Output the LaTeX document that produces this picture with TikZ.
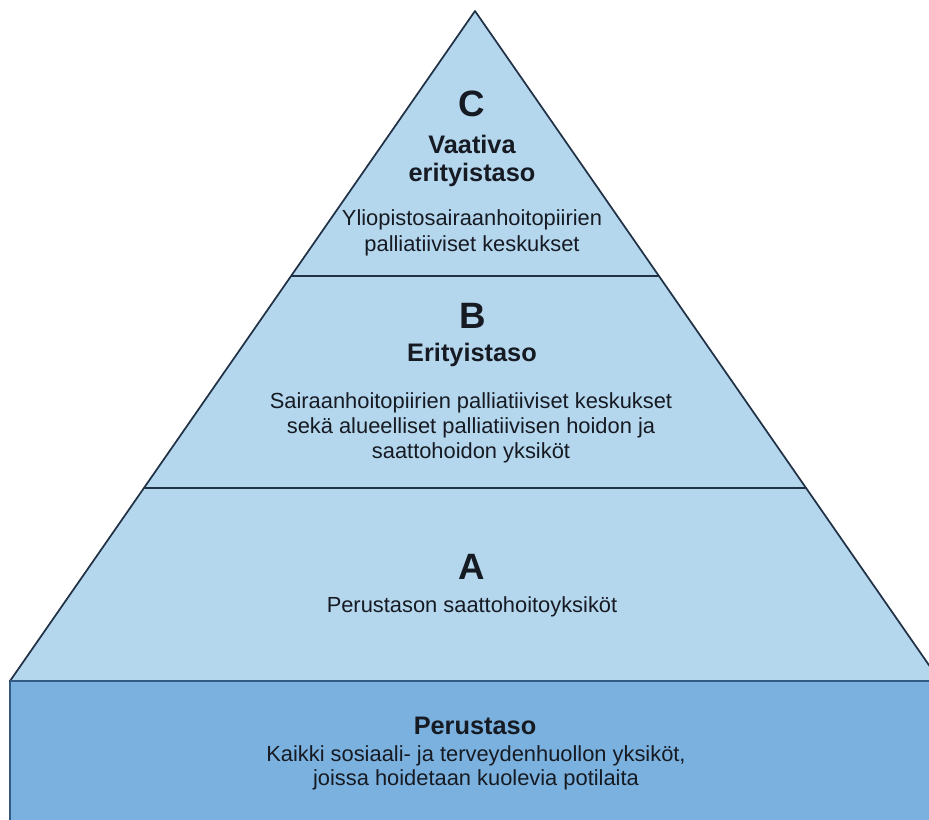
\documentclass[tikz,border=0pt]{standalone}
\usepackage{fontspec}
\setmainfont{Liberation Sans}
\definecolor{levelblue}{RGB}{181,215,238}
\definecolor{baseblue}{RGB}{123,177,223}
\definecolor{edgeline}{RGB}{33,50,70}
\definecolor{baseedge}{RGB}{50,90,130}
\definecolor{textdark}{RGB}{22,26,34}
\tikzset{
	letter/.style={text=textdark, font=\bfseries\fontsize{27.5}{28}\selectfont},
	title/.style={text=textdark, align=center, font=\bfseries\fontsize{19}{20.5}\selectfont},
	desc/.style={text=textdark, align=center, font=\fontsize{16.4}{19}\selectfont}
}
\begin{document}
\begin{tikzpicture}[x=0.75pt, y=-0.75pt]
	\useasboundingbox (0, 0) rectangle (929, 820);
	\clip (0, 0) rectangle (929, 820);
	\coordinate (apex) at (475, 11);
	\coordinate (left) at (10, 681);
	\coordinate (right) at (940, 681);
	
	\fill [white] (0, 0) rectangle (929, 820);
	\draw [fill=baseblue, draw=baseedge, line width=1.6pt] (left) rectangle (950, 840);
	\draw [fill=levelblue, draw=edgeline, line width=1.3pt, line join=round] (apex) -- (left) -- (right) -- cycle;
	\draw [edgeline, line width=1.3pt] (291, 276) -- (659, 276);
	\draw [edgeline, line width=1.3pt] (144, 488) -- (806, 488);
	\draw [baseedge, line width=1.6pt] (left) -- (right);
	
	\draw node[letter] at (472, 104) (c) {C};
	\draw node[title] at (472, 161) (vaativa) {Vaativa\\erityistaso};
	\draw node[desc] at (472, 233) (yliopisto) {Yliopistosairaanhoitopiirien\\palliatiiviset keskukset};
	
	\draw node[letter] at (473, 316) (b) {B};
	\draw node[title] at (472, 355) (erityistaso) {Erityistaso};
	\draw node[desc] at (471, 428) (sairaan) {Sairaanhoitopiirien palliatiiviset keskukset\\sekä alueelliset palliatiivisen hoidon ja\\saattohoidon yksiköt};
	
	\draw node[letter] at (472, 567) (a) {A};
	\draw node[desc] at (472, 607) (perustason) {Perustason saattohoitoyksiköt};
	
	\draw node[title] at (475, 726) (perustaso) {Perustaso};
	\draw node[desc, font=\fontsize{16.4}{18}\selectfont] at (476, 768) (kaikki) {Kaikki sosiaali- ja terveydenhuollon yksiköt,\\joissa hoidetaan kuolevia potilaita};
\end{tikzpicture}
\end{document}
